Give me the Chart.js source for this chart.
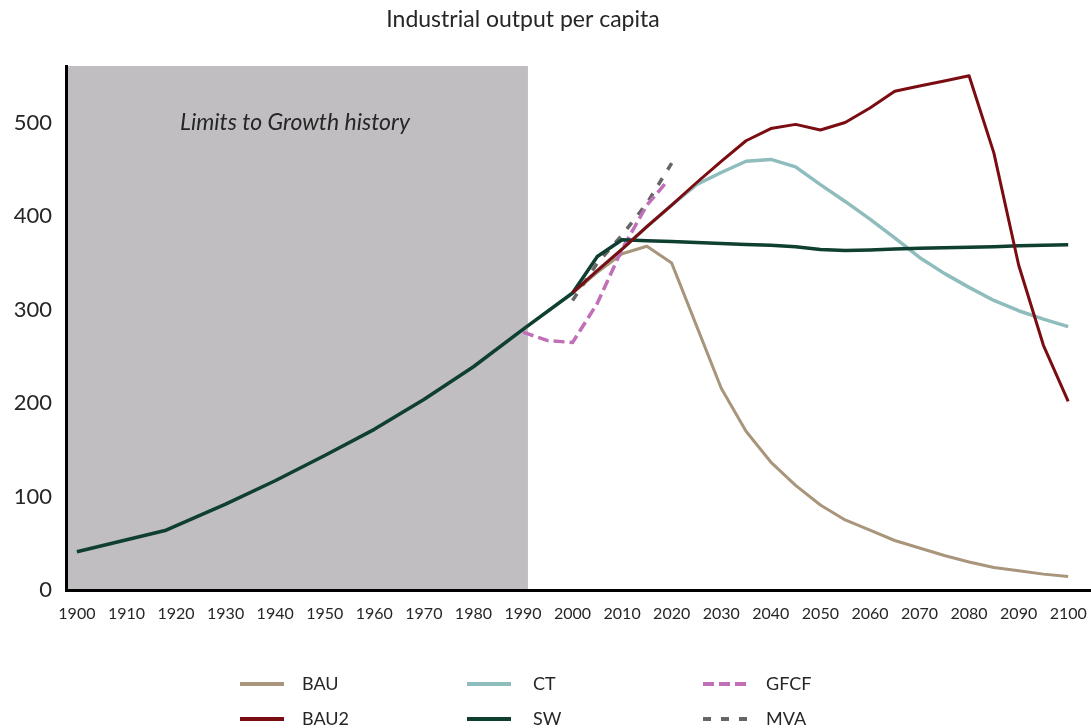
<!DOCTYPE html>
<html>
<head>
<meta charset="utf-8">
<script src="https://cdn.jsdelivr.net/npm/chart.js@4/dist/chart.umd.min.js"></script>
<style>
  html, body { margin: 0; padding: 0; background: #fff; }
</style>
</head>
<body>
<canvas id="chart" width="1091" height="728"></canvas>
<script>
// History 1900-1990 (shared by all scenarios)
const histYears = [1900, 1918, 1930, 1940, 1950, 1960, 1970, 1980, 1990];
const histValues = [41, 64, 92, 117, 144, 172, 204, 239, 279];

// Scenario years
const scenYears = [2000, 2005, 2010, 2015, 2020, 2025, 2030, 2035, 2040, 2045, 2050,
                   2055, 2060, 2065, 2070, 2075, 2080, 2085, 2090, 2095, 2100];
const bau  = [318, 340, 360, 368, 350, 283, 216, 170, 137, 112, 91, 75, 64, 53, 45, 37, 30, 24, 20.5, 17, 14.5];
const bau2 = [318, 342, 365, 389, 412, 436, 459, 481, 494, 498.5, 492.5, 500.5, 516, 534, 539.5, 545, 550.6, 468, 348, 262, 202];
const ct   = [318, 342, 365, 389, 412, 434, 447, 459, 461, 453, 434, 416, 397, 377, 356, 339, 324, 310, 299, 290, 282];
const sw   = [318, 357, 375, 374, 373, 372, 371, 370, 369, 367.5, 364.5, 363.5, 364, 365, 366, 366.5, 367, 367.5, 368.5, 369, 369.5];

// Observed data
const gfcfYears = [1990, 1995, 2000, 2005, 2010, 2015, 2019];
const gfcf = [276, 267, 265, 307, 365, 412, 437];
const mvaYears = [2000, 2005, 2010, 2015, 2020];
const mva = [310, 350, 380, 414, 457];

const xTicksStep = 10;
const yTicksStep = 100;
const historyEnd = 1991;

const FONT = "Lato, 'Open Sans', sans-serif";
const TXT = "#262626";

const pts = (xs, ys) => xs.map((x, i) => ({ x: x, y: ys[i] }));

// Title, background shade + caption
const shadePlugin = {
  id: "shade",
  beforeDraw(chart) {
    const { ctx, chartArea: a, scales: { x, y } } = chart;
    ctx.save();
    ctx.fillStyle = "#c0bec1";
    const x1 = x.getPixelForValue(historyEnd);
    ctx.fillRect(a.left, a.top, x1 - a.left, a.bottom - a.top);
    ctx.fillStyle = TXT;
    ctx.textAlign = "center";
    ctx.textBaseline = "middle";
    ctx.font = "italic 23px " + FONT;
    ctx.fillText("Limits to Growth history", x.getPixelForValue(1944), y.getPixelForValue(500));
    ctx.font = "23px " + FONT;
    ctx.fillText("Industrial output per capita", 523, 20);
    ctx.restore();
  }
};

// Legend in 3 columns x 2 rows
const legendPlugin = {
  id: "gridLegend",
  afterDraw(chart) {
    const ctx = chart.ctx;
    const cols = [240, 467, 703];
    const textX = [302, 533, 766];
    const rows = [684, 719];
    const order = ["BAU", "CT", "GFCF", "BAU2", "SW", "MVA"];
    ctx.save();
    order.forEach((name, i) => {
      const ds = chart.data.datasets.find(d => d.label === name);
      const c = i % 3, r = Math.floor(i / 3);
      const yy = rows[r];
      ctx.strokeStyle = ds.borderColor;
      ctx.lineWidth = 4;
      ctx.setLineDash(ds.borderDash || []);
      ctx.beginPath();
      ctx.moveTo(cols[c], yy);
      ctx.lineTo(cols[c] + 44, yy);
      ctx.stroke();
      ctx.setLineDash([]);
      ctx.fillStyle = TXT;
      ctx.font = "18px " + FONT;
      ctx.textBaseline = "middle";
      ctx.textAlign = "left";
      ctx.fillText(name, textX[c], yy);
    });
    ctx.restore();
  }
};

new Chart(document.getElementById("chart"), {
  type: "line",
  data: {
    datasets: [
      { label: "BAU2", data: pts(scenYears, bau2), borderColor: "#7b0c12", borderWidth: 3 },
      { label: "SW", data: pts(histYears.concat(scenYears), histValues.concat(sw)), borderColor: "#0f3f30", borderWidth: 3.5 },
      { label: "GFCF", data: pts(gfcfYears, gfcf), borderColor: "#c06fb8", borderWidth: 3.5, borderDash: [11, 5] },
      { label: "MVA", data: pts(mvaYears, mva), borderColor: "#666666", borderWidth: 3.5, borderDash: [8, 10] },
      { label: "CT", data: pts(scenYears, ct), borderColor: "#8fbcbc", borderWidth: 3.5 },
      { label: "BAU", data: pts(scenYears, bau), borderColor: "#a8957b", borderWidth: 3 }
    ]
  },
  options: {
    responsive: false,
    animation: false,
    elements: {
      point: { radius: 0, hoverRadius: 0 },
      line: { tension: 0, fill: false, borderCapStyle: "butt", borderJoinStyle: "round" }
    },
    layout: { padding: { top: 66, left: 0, right: 0, bottom: 98 } },
    plugins: {
      legend: { display: false },
      tooltip: { enabled: false },
      title: { display: false }
    },
    scales: {
      x: {
        type: "linear",
        min: 1897.8,
        max: 2104.6,
        grid: { display: false, drawTicks: false },
        border: { display: true, color: "#000", width: 3 },
        ticks: {
          stepSize: xTicksStep,
          includeBounds: false,
          autoSkip: false,
          maxRotation: 0,
          padding: 14,
          color: TXT,
          font: { family: FONT, size: 16 },
          callback: v => String(v)
        },
        afterFit(s) { s.height = 40; s.paddingLeft = 0; s.paddingRight = 0; }
      },
      y: {
        min: 0,
        max: 561,
        grid: { display: false, drawTicks: false },
        border: { display: true, color: "#000", width: 3 },
        ticks: {
          stepSize: yTicksStep,
          includeBounds: false,
          padding: 14,
          color: TXT,
          font: { family: FONT, size: 22 }
        },
        afterFit(s) { s.width = 66; s.paddingTop = 0; s.paddingBottom = 0; }
      }
    }
  },
  plugins: [shadePlugin, legendPlugin]
});
</script>
</body>
</html>
